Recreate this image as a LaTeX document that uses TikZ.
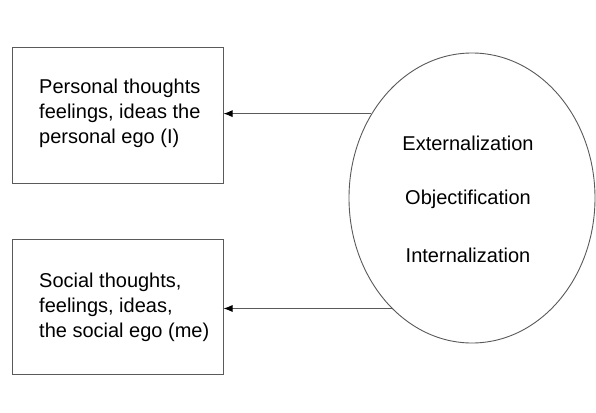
\documentclass[tikz,border=0pt]{standalone}
\usepackage{fontspec}
\setmainfont{Liberation Sans}
\usetikzlibrary{shapes.geometric,arrows.meta}
\definecolor{edge}{HTML}{5A5A5A}
\tikzset{
  txt/.style={font=\fontsize{20}{25}\selectfont, text=black, inner sep=0pt},
  boxnode/.style={draw=edge, line width=1pt, minimum width=211pt, minimum height=135pt,
    inner sep=0pt},
  ovalnode/.style={draw=edge, line width=0.9pt, ellipse, minimum width=246pt,
    minimum height=290pt, inner sep=0pt},
  arr/.style={draw=edge, line width=0.9pt, -{Latex[length=9pt,width=7pt,color=black]}}
}
\begin{document}
\begin{tikzpicture}[x=1pt,y=-1pt]
\useasboundingbox (0,0) rectangle (596,412);
\fill[white] (0,0) rectangle (596,412);
\node[boxnode] (box1) at (117.5,115.5) {};
\node[boxnode] (box2) at (117.5,307) {};
\node[txt, align=left, anchor=west] (t1) at (39,113) {Personal thoughts\\feelings, ideas the\\personal ego (I)};
\node[txt, align=left, anchor=west] (t2) at (39,307) {Social thoughts,\\feelings, ideas,\\the social ego (me)};
\node[ovalnode] (ell) at (472,198) {};
\node[txt] (e1) at (468,143) {Externalization};
\node[txt] (e2) at (468,199) {Objectification};
\node[txt] (e3) at (468,255) {Internalization};
\draw[arr] (ell.140.3) -- (ell.140.3 -| box1.east);
\draw[arr] (ell.234.1) -- (ell.234.1 -| box2.east);
\end{tikzpicture}
\end{document}
